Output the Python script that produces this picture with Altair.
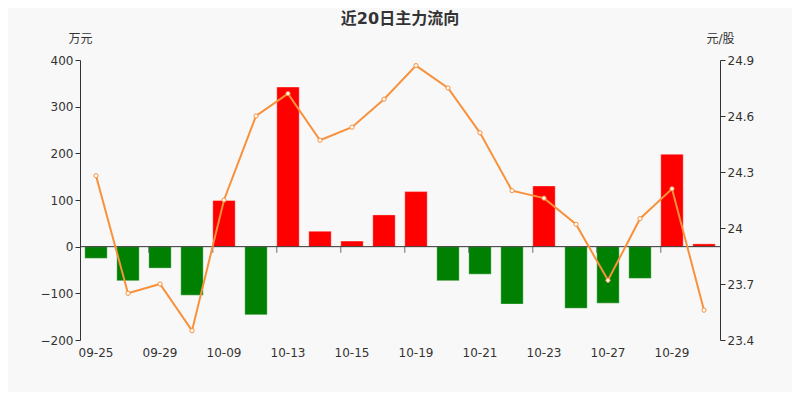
import altair as alt
import pandas as pd

dates = ["09-25", "09-28", "09-29", "09-30", "10-09", "10-12", "10-13", "10-14",
         "10-15", "10-16", "10-19", "10-20", "10-21", "10-22", "10-23", "10-26",
         "10-27", "10-28", "10-29", "10-30"]
flow = [-25, -73, -46, -104, 99, -146, 342, 33, 12, 68, 118, -73, -59, -123,
        130, -132, -121, -68, 198, 6]
price = [24.28, 23.65, 23.70, 23.45, 24.15, 24.60, 24.72, 24.47, 24.54, 24.69,
         24.87, 24.75, 24.51, 24.20, 24.16, 24.02, 23.72, 24.05, 24.21, 23.56]
label_dates = dates[::2]

df = pd.DataFrame({"date": dates, "flow": flow, "price": price})
df["dir"] = ["up" if v >= 0 else "down" for v in flow]

FONT = "DejaVu Sans, Noto Sans CJK SC"
TXT = "#333333"

yscale = alt.Scale(domain=[-200, 400], nice=False)
yaxis = alt.Axis(title="万元", values=[-200, -100, 0, 100, 200, 300, 400],
                 grid=False, domainColor=TXT, tickColor=TXT, tickSize=5,
                 labelColor=TXT, labelFontSize=12, labelFont=FONT,
                 titleAngle=0, titleX=0, titleY=-22, titleAlign="center",
                 titleBaseline="middle", titleFont=FONT, titleFontSize=12,
                 titleColor=TXT, titleFontWeight="normal")

xenc = alt.X("date:N", sort=dates,
             scale=alt.Scale(paddingInner=0.3, paddingOuter=0.15),
             axis=alt.Axis(title=None, values=label_dates, domain=False, ticks=False,
                           labelAngle=0, labelPadding=7, labelFontSize=12,
                           labelColor=TXT, labelFont=FONT))

bars = alt.Chart(df).mark_bar(strokeWidth=1, strokeOpacity=0.35).encode(
    x=xenc,
    y=alt.Y("flow:Q", scale=yscale, axis=yaxis),
    color=alt.Color("dir:N", scale=alt.Scale(domain=["up", "down"], range=["#ff0000", "#008000"]),
                    legend=None),
    stroke=alt.Stroke("dir:N", scale=alt.Scale(domain=["up", "down"], range=["#ffffff", "#ffffff"]),
                      legend=None),
)

zero = alt.Chart(pd.DataFrame({"flow": [0]})).mark_rule(color=TXT, strokeWidth=1).encode(
    y=alt.Y("flow:Q", scale=yscale, axis=yaxis)
)

ticks_df = pd.DataFrame({"date": label_dates[1:], "flow": [0] * (len(label_dates) - 1)})
zticks = alt.Chart(ticks_df).mark_tick(color=TXT, thickness=1, size=6, orient="vertical",
                                       yOffset=3).encode(
    x=alt.X("date:N", sort=dates, bandPosition=0),
    y=alt.Y("flow:Q", scale=yscale, axis=yaxis),
)

left = alt.layer(bars, zero, zticks)

yr = alt.Y("price:Q", scale=alt.Scale(domain=[23.4, 24.9], nice=False, zero=False),
           axis=alt.Axis(orient="right", title="元/股",
                         values=[23.4, 23.7, 24.0, 24.3, 24.6, 24.9], format="~g",
                         grid=False, domainColor=TXT, tickColor=TXT, tickSize=5,
                         labelColor=TXT, labelFontSize=12, labelFont=FONT,
                         titleAngle=0, titleX=0, titleY=-22, titleAlign="center",
                         titleBaseline="middle", titleFont=FONT, titleFontSize=12,
                         titleColor=TXT, titleFontWeight="normal"))

line = alt.Chart(df).mark_line(color="#f8913b", strokeWidth=2).encode(x=alt.X("date:N", sort=dates), y=yr)
pts = alt.Chart(df).mark_point(shape="circle", size=18, filled=True, fill="#ffffff",
                               stroke="#f8913b", strokeWidth=1, opacity=1).encode(
    x=alt.X("date:N", sort=dates), y=yr)
right = alt.layer(line, pts)

chart = alt.layer(left, right).resolve_scale(y="independent").properties(
    width=640, height=280,
    autosize=alt.AutoSizeParams(type="none"),
    padding={"left": 72, "top": 52, "right": 72, "bottom": 52},
    background="#f8f8f8",
    title=alt.TitleParams("近20日主力流向", anchor="middle", fontSize=16, fontWeight="bold",
                          color=TXT, font=FONT, offset=5),
).configure_view(stroke=None)

chart.save("out.html", embed_options={"renderer": "svg", "actions": False})
